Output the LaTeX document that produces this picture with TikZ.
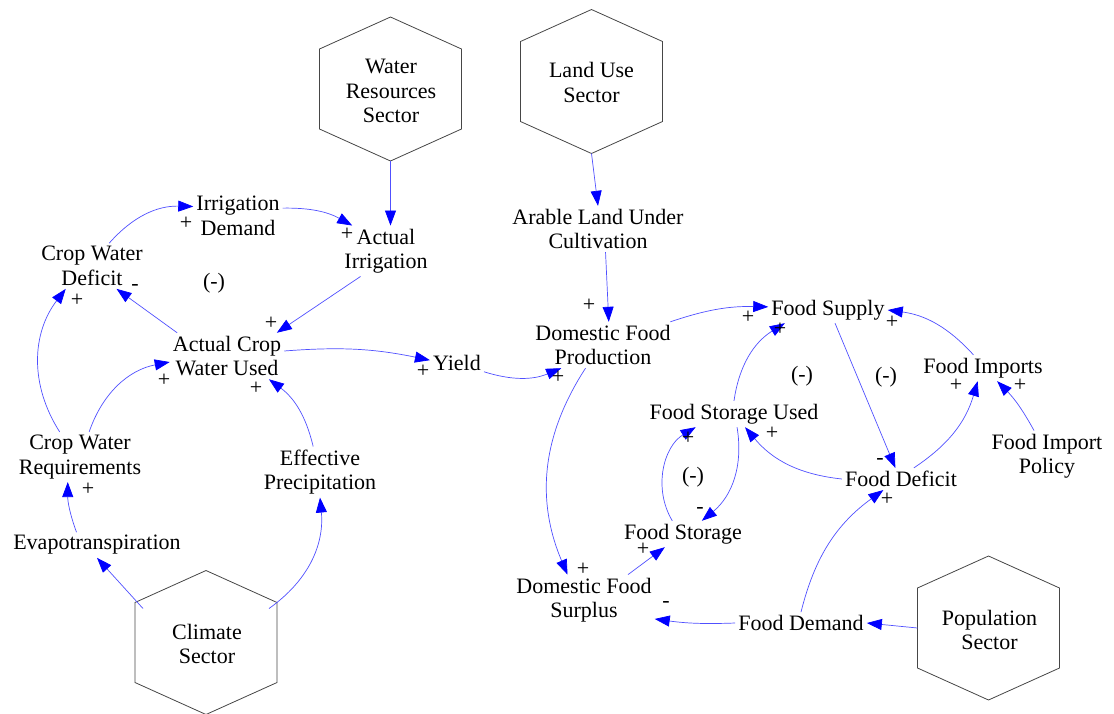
\documentclass[tikz,border=0pt]{standalone}
\usepackage{fontspec}
\newfontfamily\serfont{Liberation Serif}
\usetikzlibrary{arrows.meta}
\definecolor{linkblue}{RGB}{80,80,255}
\definecolor{tipblue}{RGB}{0,0,255}
\definecolor{hexgray}{RGB}{70,70,70}
\tikzset{
  var/.style={font=\serfont\fontsize{22}{24.5}\selectfont, align=center, inner sep=3pt},
  evapvar/.style={font=\serfont\fontsize{22}{24.5}\selectfont, inner sep=3pt},
  sgn/.style={font=\serfont\fontsize{22}{24.5}\selectfont, inner sep=0pt},
  loopmark/.style={font=\serfont\fontsize{22}{24.5}\selectfont, inner sep=0pt},
  link/.style={draw=linkblue, line width=0.7pt, -{Triangle[length=15pt,width=11pt,color=tipblue]}},
  hexline/.style={draw=hexgray, line width=0.8pt},
  hexa/.pic={
    \draw[hexline] (0,-72) coordinate (-t) -- (71,-40) coordinate (-ur) -- (71,40) coordinate (-lr)
      -- (0,72) coordinate (-b) -- (-71,40) coordinate (-ll) -- (-71,-40) coordinate (-ul) -- cycle;
    \coordinate (-l) at (-71,0);
    \coordinate (-r) at (71,0);
    \coordinate (-uls) at (-63,-34);
    \coordinate (-urs) at (63,-34);
  }
}
\begin{document}
\begin{tikzpicture}[x=1pt,y=-1pt]
\useasboundingbox (0,0) rectangle (1114,713);
% sectors
\pic (wr) at (390.5,89) {hexa};
\pic (lu) at (591.5,81.5) {hexa};
\pic (cl) at (206,642.5) {hexa};
\pic (po) at (988.5,628) {hexa};
\node[var] (wrs) at (391,91) {Water\\Resources\\Sector};
\node[var] (lus) at (591.5,82.5) {Land Use\\Sector};
\node[var] (cls) at (207,644) {Climate\\Sector};
\node[var] (pos) at (989.5,630) {Population\\Sector};
% variables
\node[var] (irrdem) at (238,216) {Irrigation\\Demand};
\node[var] (actirr) at (386,251) {Actual\\Irrigation};
\node[var] (cwd) at (92,266) {Crop Water\\Deficit};
\node[var] (acwu) at (227,356) {Actual Crop\\Water Used};
\node[var] (yield) at (457,363) {Yield};
\node[var] (aluc) at (598,229) {Arable Land Under\\Cultivation};
\node[var] (dfp) at (603,345) {Domestic Food\\Production};
\node[var] (fsup) at (828,310) {Food Supply};
\node[var] (fimp) at (983,368) {Food Imports};
\node[var] (fsu) at (734,414) {Food Storage Used};
\node[var] (fdef) at (901,479) {Food Deficit};
\node[var] (fip) at (1047,456) {Food Import\\Policy};
\node[var] (cwr) at (80,457) {Crop Water\\Requirements};
\node[var] (ep) at (320,472) {Effective\\Precipitation};
\node[evapvar] (evap) at (97,545) {Evapotranspiration};
\node[var] (fst) at (683,534) {Food Storage};
\node[var] (dfs) at (584,600) {Domestic Food\\Surplus};
\node[var] (fdem) at (801,623) {Food Demand};
% loop markers
\node[loopmark] (l1) at (214,283) {(-)};
\node[loopmark] (l2) at (693,477) {(-)};
\node[loopmark] (l3) at (802,376) {(-)};
\node[loopmark] (l4) at (886,377) {(-)};
% connectors
\draw[link] (wr-b) -- (wr-b |- actirr.north);
\draw[link] (lu-b) -- (aluc.north);
\draw[link] (irrdem.10) to[bend left=15] (actirr.143);
\draw[link] (cwd.53) to[bend left=25] (irrdem.168);
\draw[link] (actirr.225) -- (acwu.25);
\draw[link] (acwu.155) -- (cwd.317);
\draw[link] (cwr.129) to[bend left=35] (cwd.221);
\draw[link] (cwr.70) to[bend left=30] (acwu.186);
\draw[link] (evap.148) to[bend left=10] (cwr.244);
\draw[link] (cl-uls) -- (evap.south);
\draw[link] (cl-urs) to[bend right=30] (ep.south);
\draw[link] (ep.105) to[bend right=20] (acwu.331);
\draw[link] (acwu.5) to[bend left=8] (yield.174);
\draw[link] (yield.-18) to[bend right=20] (dfp.209);
\draw[link] (aluc.288) -- (dfp.76);
\draw[link] (dfp.19) to[bend left=10] (fsup.177);
\draw[link] (dfp.233) to[bend right=28] (dfs.123);
\draw[link] (dfs.30) -- (fst.216);
\draw[link] (fst.129) to[bend left=45] (fsu.199);
\draw[link] (fsu.283) to[bend left=30] (fst.35);
\draw[link] (fsu.north) to[bend left=25] (fsup.197);
\draw[link] (fsup.298) -- (fdef.117);
\draw[link] (fdef.west) to[bend left=22] (fsu.310);
\draw[link] (fdef.41) to[bend right=20] (fimp.248);
\draw[link] (fimp.126) to[bend right=20] (fsup.east);
\draw[link] (fip.117) to[bend right=8] (fimp.317);
\draw[link] (fdem.north) to[bend left=20] (fdef.212);
\draw[link] (fdem.west) to[bend left=5] (dfs.345);
\draw[link] (po-l) -- (fdem.east);
% polarity signs
\node[sgn] (s1) at (186,223) {+};
\node[sgn] (s2) at (347,234) {+};
\node[sgn] (s3) at (135,287) {-};
\node[sgn] (s4) at (77,300) {+};
\node[sgn] (s5) at (271,323) {+};
\node[sgn] (s6) at (164,380) {+};
\node[sgn] (s7) at (256,388) {+};
\node[sgn] (s8) at (88,489) {+};
\node[sgn] (s9) at (423,371) {+};
\node[sgn] (s10) at (589,305) {+};
\node[sgn] (s11) at (558,377) {+};
\node[sgn] (s12) at (748,317) {+};
\node[sgn] (s13) at (780,329) {+};
\node[sgn] (s14) at (892,322) {+};
\node[sgn] (s15) at (956,385) {+};
\node[sgn] (s16) at (1020,385) {+};
\node[sgn] (s17) at (688,438) {+};
\node[sgn] (s18) at (772,433) {+};
\node[sgn] (s19) at (700,510) {-};
\node[sgn] (s20) at (643,549) {+};
\node[sgn] (s21) at (880,461) {-};
\node[sgn] (s22) at (887,499) {+};
\node[sgn] (s23) at (583,569) {+};
\node[sgn] (s24) at (666,604) {-};
\end{tikzpicture}
\end{document}
